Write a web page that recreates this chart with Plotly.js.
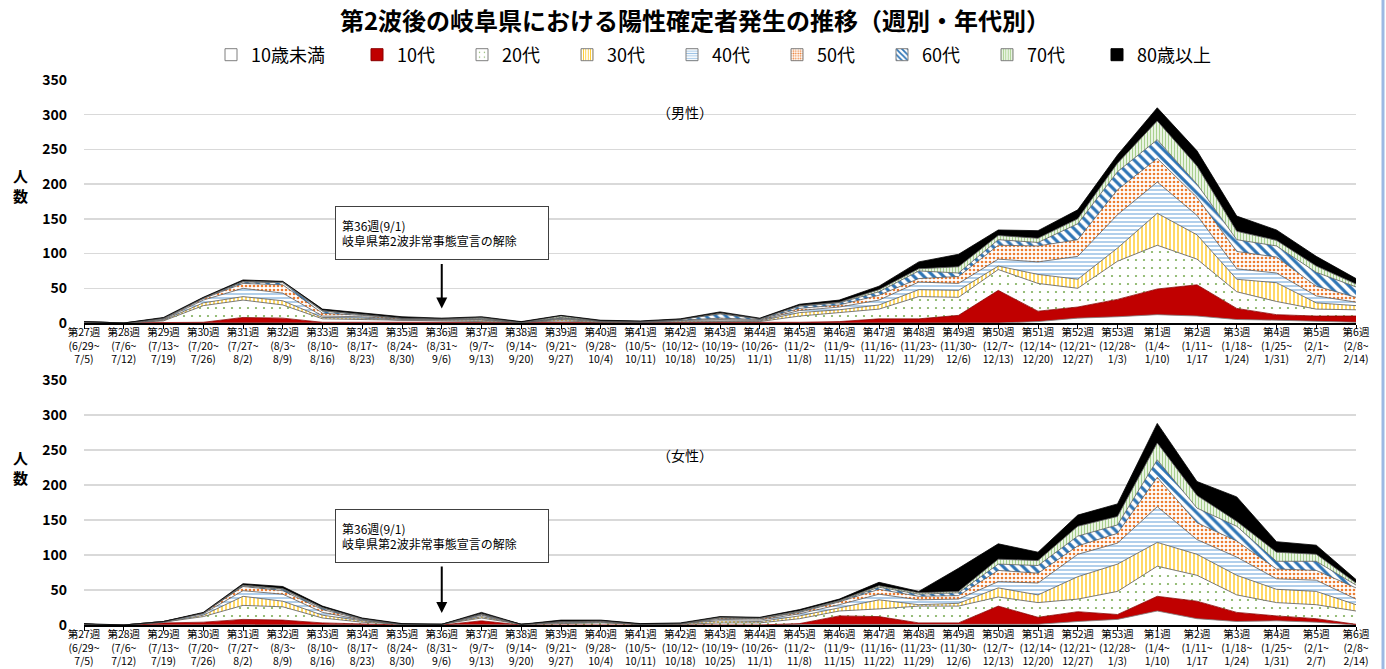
<!DOCTYPE html>
<html>
<head>
<meta charset="utf-8">
<script src="https://cdn.plot.ly/plotly-3.0.1.min.js"></script>
<style>html,body{margin:0;padding:0;background:#fff;}#chart{width:1386px;height:669px;}</style>
</head>
<body>
<div id="chart"></div>
<script>
// ---- Data ----
const weeks = ['第27週','第28週','第29週','第30週','第31週','第32週','第33週','第34週','第35週','第36週','第37週','第38週','第39週','第40週','第41週','第42週','第43週','第44週','第45週','第46週','第47週','第48週','第49週','第50週','第51週','第52週','第53週','第1週','第2週','第3週','第4週','第5週','第6週'];
const weekStart = ['(6/29~','(7/6~','(7/13~','(7/20~','(7/27~','(8/3~','(8/10~','(8/17~','(8/24~','(8/31~','(9/7~','(9/14~','(9/21~','(9/28~','(10/5~','(10/12~','(10/19~','(10/26~','(11/2~','(11/9~','(11/16~','(11/23~','(11/30~','(12/7~','(12/14~','(12/21~','(12/28~','(1/4~','(1/11~','(1/18~','(1/25~','(2/1~','(2/8~'];
const weekEnd = ['7/5)','7/12)','7/19)','7/26)','8/2)','8/9)','8/16)','8/23)','8/30)','9/6)','9/13)','9/20)','9/27)','10/4)','10/11)','10/18)','10/25)','11/1)','11/8)','11/15)','11/22)','11/29)','12/6)','12/13)','12/20)','12/27)','1/3)','1/10)','1/17','1/24)','1/31)','2/7)','2/14)'];

const ageGroups = ['10歳未満','10代','20代','30代','40代','50代','60代','70代','80歳以上'];

// 男性
const male_u10 = [0,0,0,0,0,0,0,0,0,0,0,0,0,0,0,0,0,0,0,0,1,1,1,0,2,7,9,12,10,5,4,2,1];
const male_10s = [0,0,0,1,8,7,1,1,0,0,0,0,0,0,0,0,0,0,1,2,5,5,10,47,15,16,25,37,45,16,8,8,9];
const male_20s = [1,0,3,24,25,19,5,4,3,2,2,1,3,1,1,2,2,2,9,13,14,32,26,30,40,27,55,63,37,24,19,10,9];
const male_30s = [0,0,1,4,5,6,2,2,1,2,2,0,2,1,0,1,1,1,5,4,6,10,10,5,13,13,19,46,35,18,27,9,6];
const male_40s = [1,0,1,4,12,11,2,2,1,1,1,0,1,1,1,1,2,1,3,4,7,11,10,10,18,33,48,45,28,15,14,10,5];
const male_50s = [0,0,1,2,7,12,4,2,1,1,1,0,1,0,0,0,2,1,3,3,7,5,10,20,23,24,36,34,26,25,23,14,7];
const male_60s = [0,0,1,1,2,3,3,1,1,0,1,0,1,0,0,1,6,1,3,3,5,11,5,8,5,23,26,27,19,17,16,20,15];
const male_70s = [0,0,0,0,1,1,1,1,0,0,1,0,2,0,0,0,1,0,1,1,3,3,9,6,6,7,12,27,26,12,8,9,4];
const male_80p = [0,0,1,1,2,1,2,2,2,1,1,1,1,1,1,1,2,1,2,3,5,10,18,8,11,13,12,19,22,22,15,14,8];

// 女性
const female_u10 = [0,0,0,0,0,0,0,0,0,0,0,0,0,0,0,0,0,0,0,0,1,1,1,0,1,5,8,20,9,5,6,4,0];
const female_10s = [0,0,3,4,8,7,3,1,0,0,6,0,0,1,0,0,0,0,2,13,11,2,2,27,10,14,7,21,25,13,7,5,1];
const female_20s = [1,0,1,8,20,19,7,3,1,1,4,1,2,2,1,1,3,3,7,7,11,24,24,13,21,18,33,43,37,25,19,20,19];
const female_30s = [0,0,0,2,13,8,4,2,0,0,2,0,1,1,0,1,3,2,4,5,13,2,4,13,11,32,39,34,30,28,19,19,9];
const female_40s = [0,0,1,2,8,10,4,1,0,0,2,0,1,1,0,0,2,2,3,4,8,7,6,9,17,32,30,51,21,26,15,16,8];
const female_50s = [0,0,0,1,6,5,4,1,0,0,1,0,1,1,0,0,2,2,2,4,7,5,5,16,14,12,14,42,24,23,14,14,16];
const female_60s = [0,0,0,0,1,2,2,1,0,0,1,0,0,0,0,0,0,0,1,1,3,3,4,9,11,14,12,25,21,21,11,13,4];
const female_70s = [0,0,0,0,1,1,1,0,0,0,0,0,0,0,0,0,1,1,1,1,2,2,2,7,7,14,12,24,18,7,13,10,3];
const female_80p = [1,0,0,1,2,3,2,1,1,0,2,0,2,1,1,1,1,1,2,2,5,2,33,22,12,16,18,28,20,35,15,13,5];

const maleSeries = [male_u10, male_10s, male_20s, male_30s, male_40s, male_50s, male_60s, male_70s, male_80p];
const femaleSeries = [female_u10, female_10s, female_20s, female_30s, female_40s, female_50s, female_60s, female_70s, female_80p];

// ---- Styles ----
const styles = [
  {fillcolor:'#FFFFFF', line:'#7F7F7F'},
  {fillcolor:'#C00000', line:'#8B0000'},
  {pattern:{shape:'.', fgcolor:'#7FAF5A', bgcolor:'#FFFFFF', size:8, solidity:0.06}, line:'#595959'},
  {pattern:{shape:'|', fgcolor:'#FFC000', bgcolor:'#FFFFFF', size:4, solidity:0.3}, line:'#595959'},
  {pattern:{shape:'-', fgcolor:'#9DC3E6', bgcolor:'#FFFFFF', size:4, solidity:0.4}, line:'#595959'},
  {pattern:{shape:'.', fgcolor:'#ED7D31', bgcolor:'#FFFFFF', size:4, solidity:0.35}, line:'#595959'},
  {pattern:{shape:'\\', fgcolor:'#2E75B6', bgcolor:'#FFFFFF', size:7, solidity:0.45}, line:'#595959'},
  {pattern:{shape:'|', fgcolor:'#A9D18E', bgcolor:'#FFFFFF', size:3, solidity:0.5}, line:'#595959'},
  {fillcolor:'#000000', line:'#000000'}
];

const labels = weeks.map((w,i)=> w + '<br>' + weekStart[i] + '<br>' + weekEnd[i]);

const traces = [];
function addGroup(series, xa, ya, group){
  series.forEach((vals, k)=>{
    const st = styles[k];
    const t = {
      type:'scatter', mode:'lines', x: labels, y: vals,
      xaxis: xa, yaxis: ya, stackgroup: group,
      name: ageGroups[k], showlegend: false,
      line:{color: st.line, width: 0.8, shape:'linear'},
      hoverinfo:'skip'
    };
    if (st.pattern) { t.fillcolor = '#FFFFFF'; t.fillpattern = st.pattern; }
    else { t.fillcolor = st.fillcolor; }
    traces.push(t);
  });
}
addGroup(maleSeries, 'x', 'y', 'male');
addGroup(femaleSeries, 'x2', 'y2', 'female');

// legend swatches (square symbols) on a hidden helper axis (values outside its range)
const legendOf = k => (k===0 ? 'legend' : (k===8 ? 'legend3' : 'legend2'));
styles.forEach((st, k)=>{
  const m = {line:{color:'#7F7F7F', width:1}};
  if (st.pattern) { m.color = '#FFFFFF'; m.pattern = Object.assign({}, st.pattern, {size: Math.max(3, st.pattern.size-2)}); }
  else { m.color = st.fillcolor; if (k===8) m.line = {color:'#000', width:1}; if (k===1) m.line={color:'#8B0000',width:1}; }
  traces.push({type:'bar', x:[ageGroups[k]], y:[0], xaxis:'x3', yaxis:'y3', name: ageGroups[k],
    marker: m, showlegend:true, legend: legendOf(k), hoverinfo:'skip'});
});

const H = 669;
const fontJP = '"Noto Sans CJK JP", "Noto Sans", sans-serif';

const xaxisBase = {
  type:'category', range:[0, weeks.length-1], showgrid:false,
  showline:true, linecolor:'#000', linewidth:1.5,
  ticks:'outside', ticklen:4, tickcolor:'#000', tickwidth:1,
  ticklabelstandoff:-5,
  tickangle:0, tickfont:{family:fontJP, size:10.5, color:'#000'},
  fixedrange:true, automargin:false
};
const yaxisBase = {
  range:[0,350], dtick:50, tick0:0, showgrid:true, gridcolor:'#D9D9D9', gridwidth:1.5,
  zeroline:false, showline:false, ticks:'', ticklabelstandoff:16,
  tickfont:{family:fontJP, size:14, color:'#000', weight:'bold'},
  fixedrange:true, automargin:false
};

const annBox = (xa, ya, yv) => ({
  xref: xa, yref: ya, x: labels[9], y: yv,
  text:'第36週(9/1)<br>岐阜県第2波非常事態宣言の解除',
  showarrow:false, align:'left', width:200, height:40, borderpad:6,
  bordercolor:'#404040', borderwidth:1, bgcolor:'#FFFFFF',
  font:{family:fontJP, size:12, color:'#000'}
});
const annArrow = (xa, ya, yv, ay) => ({
  xref: xa, yref: ya, x: labels[9], y: yv, text:'', showarrow:true,
  ax:0, ay: ay, arrowhead:2, arrowsize:1.1, arrowwidth:2, arrowcolor:'#000'
});

const legendCommon = {orientation:'h', yanchor:'middle', y:1-55/H, xanchor:'left',
  font:{family:fontJP, size:18, color:'#000'}, entrywidth:60, entrywidthmode:'pixels',
  itemwidth:30, traceorder:'normal', bgcolor:'rgba(0,0,0,0)', borderwidth:0};

const layout = {
  width:1386, height:669,
  margin:{l:84, r:30, t:0, b:0},
  paper_bgcolor:'#FFFFFF', plot_bgcolor:'#FFFFFF',
  font:{family:fontJP, color:'#000'},
  barmode:'overlay',
  title:{text:'第2波後の岐阜県における陽性確定者発生の推移（週別・年代別）',
    font:{family:fontJP, size:24, color:'#000', weight:'bold'},
    x:695/1386, xref:'container', xanchor:'center', y:1-22/H, yref:'container', yanchor:'middle'},
  showlegend:true,
  legend: Object.assign({}, legendCommon, {x:(211-84)/1272, entrywidth:90}),
  legend2: Object.assign({}, legendCommon, {x:(357-84)/1272}),
  legend3: Object.assign({}, legendCommon, {x:(1097-84)/1272, entrywidth:100}),
  hovermode:false,
  xaxis: Object.assign({}, xaxisBase, {domain:[0,1], anchor:'y'}),
  yaxis: Object.assign({}, yaxisBase, {domain:[1-323/H, 1-80/H], anchor:'x'}),
  xaxis2: Object.assign({}, xaxisBase, {domain:[0,1], anchor:'y2'}),
  yaxis2: Object.assign({}, yaxisBase, {domain:[1-625/H, 1-380/H], anchor:'x2'}),
  xaxis3: {domain:[0,0.01], anchor:'y3', visible:false, fixedrange:true},
  yaxis3: {domain:[0.999,1], anchor:'x3', visible:false, fixedrange:true, range:[5,6]},
  annotations:[
    {xref:'paper', yref:'paper', x:(685-84)/1272, y:1-100/H, text:'（男性）', showarrow:false,
      xanchor:'center', font:{family:fontJP, size:14, color:'#000'}},
    {xref:'paper', yref:'paper', x:(685-84)/1272, y:1-467/H, text:'（女性）', showarrow:false,
      xanchor:'center', font:{family:fontJP, size:14, color:'#000'}},
    {xref:'paper', yref:'paper', x:(20-84)/1272, y:1-185/H, text:'人<br>数', showarrow:false,
      xanchor:'center', yanchor:'middle', font:{family:fontJP, size:15, color:'#000', weight:'bold'}},
    {xref:'paper', yref:'paper', x:(20-84)/1272, y:1-467/H, text:'人<br>数', showarrow:false,
      xanchor:'center', yanchor:'middle', font:{family:fontJP, size:15, color:'#000', weight:'bold'}},
    annBox('x','y',130),
    annArrow('x','y',21,-46),
    annBox('x2','y2',127),
    annArrow('x2','y2',17,-48)
  ],
  shapes:[
    {type:'line', xref:'paper', yref:'paper', x0:(1383-84)/1272, x1:(1383-84)/1272, y0:0, y1:1,
      line:{color:'#9DB9E3', width:3}}
  ]
};

Plotly.newPlot('chart', traces, layout, {displayModeBar:false, staticPlot:true});
</script>
</body>
</html>
